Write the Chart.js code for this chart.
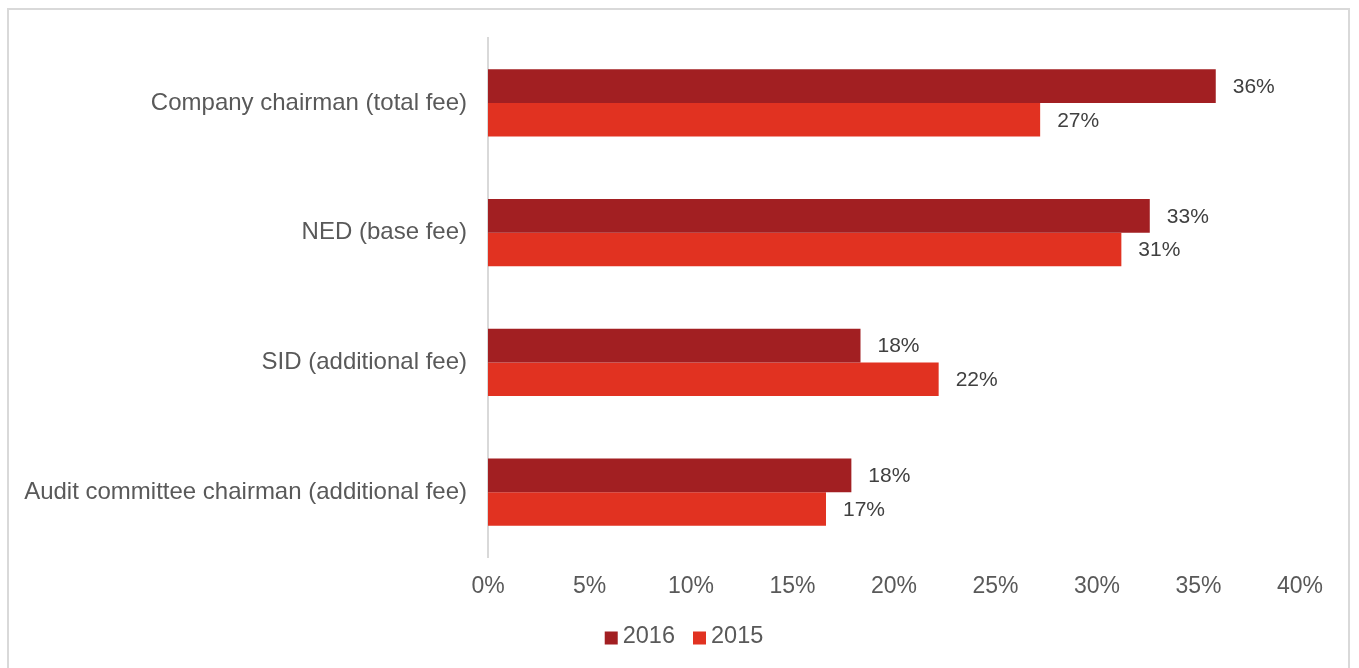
<!DOCTYPE html>
<html>
<head>
<meta charset="utf-8">
<script src="https://cdn.jsdelivr.net/npm/chart.js@4.4.1/dist/chart.umd.min.js"></script>
<style>
  html, body { margin: 0; padding: 0; background: #fff; }
  body { width: 1359px; height: 668px; position: relative; overflow: hidden; }
  .frame { position: absolute; left: 7px; top: 8px; width: 1343px; height: 700px; border: 2px solid #d9d9d9; box-sizing: border-box; }
  #chart-fees { position: absolute; left: 0; top: 0; }
</style>
</head>
<body>
<div class="frame"></div>
<canvas id="chart-fees" width="1359" height="668"></canvas>
<script>
// ── Data ──────────────────────────────────────────────
const roles = [
  "Company chairman (total fee)",
  "NED (base fee)",
  "SID (additional fee)",
  "Audit committee chairman (additional fee)"
];
const years = ["2016", "2015"];
const increase2016 = [35.85, 32.6, 18.35, 17.9];
const increase2015 = [27.2, 31.2, 22.2, 16.65];
const xTicks = [0, 5, 10, 15, 20, 25, 30, 35, 40];

const FONT = "'Liberation Sans', Arial, sans-serif";
const GREY = "#595959";

// value labels at the end of each bar
const barLabels = {
  id: "barLabels",
  afterDatasetsDraw(chart) {
    const { ctx } = chart;
    ctx.save();
    ctx.font = `21px ${FONT}`;
    ctx.fillStyle = "#404040";
    ctx.textAlign = "left";
    ctx.textBaseline = "middle";
    chart.data.datasets.forEach((ds, i) => {
      chart.getDatasetMeta(i).data.forEach((bar, j) => {
        ctx.fillText(Math.round(ds.data[j]) + "%", bar.x + 17, bar.y + 1);
      });
    });
    ctx.restore();
  }
};

// compact legend: square, small gap, text; centred under the frame
const boxLegend = {
  id: "boxLegend",
  afterDraw(chart, args, opts) {
    const { ctx } = chart;
    const box = 13, gap = 5, spacing = 18;
    ctx.save();
    ctx.font = `23.5px ${FONT}`;
    ctx.textBaseline = "middle";
    const items = chart.data.datasets.map(ds => ({ text: ds.label, color: ds.backgroundColor, w: ctx.measureText(ds.label).width }));
    const total = items.reduce((s, it) => s + box + gap + it.w, 0) + spacing * (items.length - 1);
    let x = opts.centerX - total / 2;
    items.forEach(it => {
      ctx.fillStyle = it.color;
      ctx.fillRect(x, opts.y - box / 2 + 1, box, box);
      ctx.fillStyle = GREY;
      ctx.fillText(it.text, x + box + gap, opts.y);
      x += box + gap + it.w + spacing;
    });
    ctx.restore();
  }
};

new Chart(document.getElementById("chart-fees"), {
  type: "bar",
  data: {
    labels: roles,
    datasets: [
      { label: years[0], data: increase2016, backgroundColor: "#a21f22", borderWidth: 0,
        categoryPercentage: 0.52, barPercentage: 1.0 },
      { label: years[1], data: increase2015, backgroundColor: "#e13221", borderWidth: 0,
        categoryPercentage: 0.52, barPercentage: 1.0 }
    ]
  },
  options: {
    indexAxis: "y",
    responsive: false,
    animation: false,
    layout: { padding: { top: 38, right: 59, left: 0, bottom: 53 } },
    plugins: {
      legend: { display: false },
      tooltip: { enabled: false },
      boxLegend: { centerX: 684, y: 637 }
    },
    scales: {
      x: {
        min: 0, max: 40,
        afterBuildTicks: axis => { axis.ticks = xTicks.map(v => ({ value: v })); },
        grid: { display: false, drawTicks: false },
        border: { display: false },
        ticks: { color: GREY, padding: 16, font: { family: FONT, size: 23 }, callback: v => v + "%" },
        afterFit: axis => { axis.height = 58; }
      },
      y: {
        grid: { display: false, drawTicks: false },
        border: { display: true, color: "#d9d9d9", width: 2 },
        ticks: { color: GREY, padding: 21, font: { family: FONT, size: 24 } },
        afterFit: axis => { axis.width = 488; }
      }
    }
  },
  plugins: [barLabels, boxLegend]
});
</script>
</body>
</html>
